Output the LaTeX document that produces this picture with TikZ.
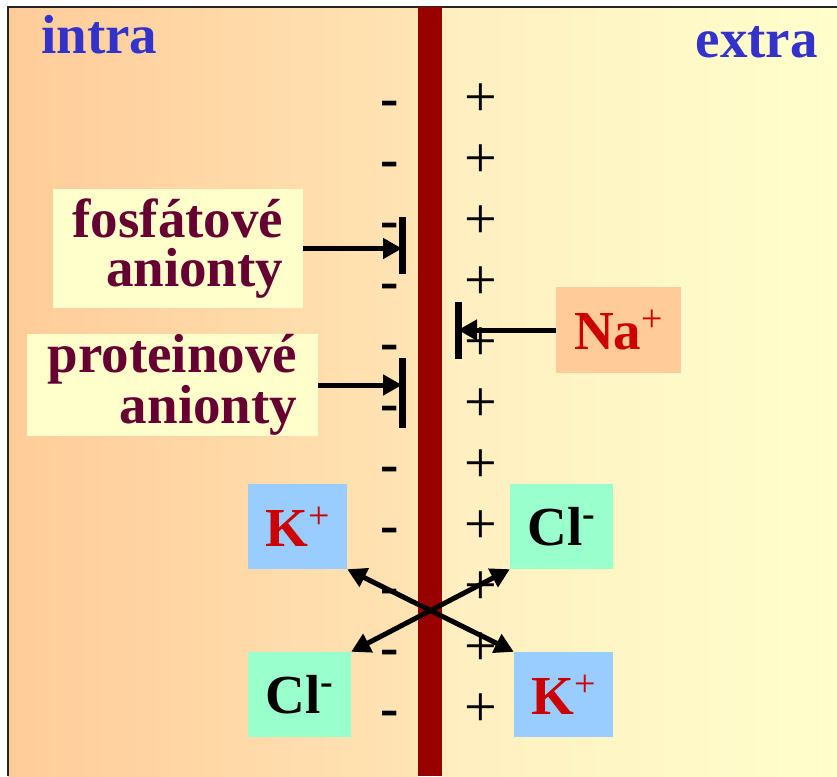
\documentclass[tikz,border=0pt]{standalone}
\usepackage{fontspec}
\setmainfont{Liberation Serif}
\usepackage{xcolor}
\usetikzlibrary{arrows.meta}
\definecolor{leftbg}{HTML}{FFCC99}
\definecolor{leftmid}{HTML}{FFE4B4}
\definecolor{rightmid}{HTML}{FFEEC0}
\definecolor{rightbg}{HTML}{FFFFCC}
\definecolor{membr}{HTML}{990000}
\definecolor{sideblue}{HTML}{3333CC}
\definecolor{anionred}{HTML}{660033}
\definecolor{ionred}{HTML}{CC0000}
\definecolor{boxyellow}{HTML}{FFFFCC}
\definecolor{naboxc}{HTML}{FFCC99}
\definecolor{kboxc}{HTML}{99CCFF}
\definecolor{clboxc}{HTML}{99FFCC}
\newcommand{\ionsup}[2][18pt]{\raisebox{#1}{\fontsize{38}{38}\selectfont#2}}
\tikzset{
  side/.style={font=\bfseries\fontsize{55}{55}\selectfont,text=sideblue,inner sep=0},
  sign/.style={inner sep=0,anchor=base,font=\fontsize{58}{58}\selectfont},
  anion/.style={align=right,text=anionred,fill=boxyellow,inner sep=0},
  ion/.style={font=\bfseries\fontsize{55}{55}\selectfont,inner sep=0,minimum height=85},
  push/.style={line width=5pt,>={Triangle[length=19pt,width=20pt]}},
  stopbar/.style={line width=7pt}
}
\begin{document}
\begin{tikzpicture}[x=1pt,y=-1pt]
\useasboundingbox (0,0) rectangle (837,776);
% background and membrane
\shade[left color=leftbg,right color=leftmid] (8,7) rectangle (418,776);
\shade[left color=rightmid,right color=rightbg] (442,7) rectangle (837,776);
\fill[leftmid] (417,7) rectangle (419,776);
\draw[line width=2pt,black!85] (8,776)--(8,7)--(837,7);
\fill[membr] (418,7) rectangle (442,776);
\node[side,anchor=base west] (intra) at (41,53) {intra};
\node[side,anchor=base east] (extra) at (818,57) {extra};
% charges
\foreach \i in {0,...,10}{
  \node[sign,font=\bfseries\fontsize{55}{55}\selectfont] (minus\i) at (390,{116+61*\i}) {-};
  \node[sign] (plus\i) at (481,{116+61*\i}) {+};
}
% anions
\node[anion,minimum width=250,minimum height=119,font=\bfseries\fontsize{55}{49}\selectfont] (fos) at (178,248.5) {fosfátové\\anionty};
\node[anion,minimum width=291,minimum height=102,font=\bfseries\fontsize{55}{40}\selectfont] (prot) at (172.5,385) {proteinové\\anionty};
\coordinate (fosT) at (402,217);
\coordinate (fosB) at (402,274);
\coordinate (protT) at (402,358);
\coordinate (protB) at (402,428);
\draw[stopbar] (fosT) -- (fosB);
\draw[stopbar] (protT) -- (protB);
\draw[push,->] (fos.east) -- (fos.east -| fosT);
\draw[push,->] (prot.east) -- (prot.east -| protT);
% Na+
\node[ion,fill=naboxc,text=ionred,minimum width=125,minimum height=86] (na) at (618.5,330) {Na\ionsup{\mdseries+}};
\coordinate (naT) at (458,302);
\coordinate (naB) at (458,359);
\draw[stopbar] (naT) -- (naB);
\draw[push,->] (na.west) -- (na.west -| naT);
% K+ and Cl-
\node[ion,fill=kboxc,text=ionred,minimum width=99] (kin) at (297.5,526.5) {K\ionsup{\mdseries+}};
\node[ion,fill=clboxc,minimum width=103] (clout) at (561.5,526.5) {Cl\ionsup[19pt]{-}};
\node[ion,fill=clboxc,minimum width=103] (clin) at (299.5,694.5) {Cl\ionsup[19pt]{-}};
\node[ion,fill=kboxc,text=ionred,minimum width=99] (kout) at (563.5,694.5) {K\ionsup{\mdseries+}};
\draw[push,<->] (kin.south east) -- (kout.north west);
\draw[push,<->] (clin.north east) -- (clout.south west);
\end{tikzpicture}
\end{document}
